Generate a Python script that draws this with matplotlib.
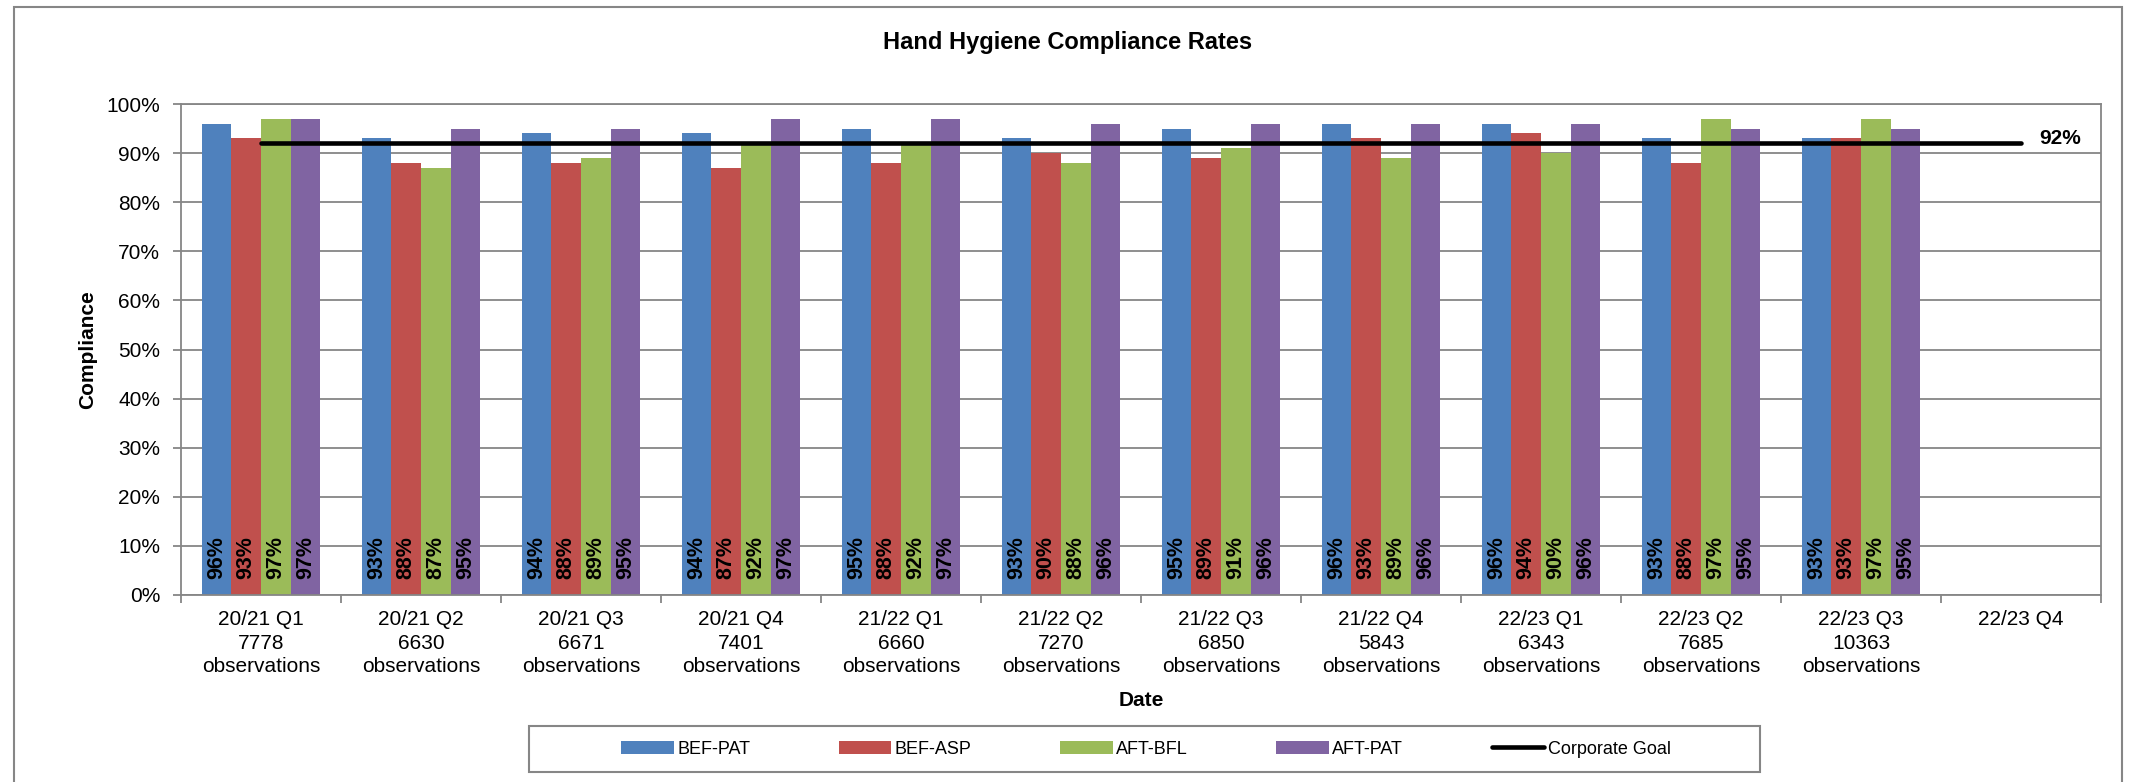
import matplotlib
matplotlib.use("Agg")
import matplotlib.pyplot as plt
import numpy as np
from matplotlib.patches import Rectangle

# font like Arial
plt.rcParams['font.family'] = ['Liberation Sans', 'DejaVu Sans']

# data
quarters = ["20/21 Q1", "20/21 Q2", "20/21 Q3", "20/21 Q4", "21/22 Q1", "21/22 Q2",
            "21/22 Q3", "21/22 Q4", "22/23 Q1", "22/23 Q2", "22/23 Q3", "22/23 Q4"]
observations = [7778, 6630, 6671, 7401, 6660, 7270, 6850, 5843, 6343, 7685, 10363]
bef_pat = [96, 93, 94, 94, 95, 93, 95, 96, 96, 93, 93]
bef_asp = [93, 88, 88, 87, 88, 90, 89, 93, 94, 88, 93]
aft_bfl = [97, 87, 89, 92, 92, 88, 91, 89, 90, 97, 97]
aft_pat = [97, 95, 95, 97, 97, 96, 96, 96, 96, 95, 95]
corporate_goal = [92] * len(quarters)

series = [("BEF-PAT", bef_pat, "#4F81BD"),
          ("BEF-ASP", bef_asp, "#C0504D"),
          ("AFT-BFL", aft_bfl, "#9BBB59"),
          ("AFT-PAT", aft_pat, "#8064A2")]

# x tick labels: quarter + observations
tick_labels = []
for i, q in enumerate(quarters):
    if i < len(observations):
        tick_labels.append(q + "\n" + str(observations[i]) + "\nobservations")
    else:
        tick_labels.append(q)

W, H = 2135, 782
fig = plt.figure(figsize=(W / 100, H / 100), dpi=100)
ax = fig.add_axes([181 / W, 1 - 595 / H, 1920 / W, 491 / H])

grey = "#868686"
bar_w = 1 / 5.42  # excel gap width ~142%

handles = []
for k, (name, vals, col) in enumerate(series):
    x = np.arange(len(vals)) + (k - 1.5) * bar_w
    y = np.array(vals) / 100
    b = ax.bar(x, y, width=bar_w, color=col, label=name, zorder=2)
    handles.append(b)
    # value labels, rotated at the bottom of each bar
    for xi, v in zip(x, vals):
        ax.text(xi, 0.077, f"{v}%", rotation=90, ha="center", va="center",
                fontsize=15.5, fontweight="bold", color="black", zorder=4)

# corporate goal line
line, = ax.plot(np.arange(len(quarters)), np.array(corporate_goal) / 100, color="black",
                lw=3.3, solid_capstyle="round", label="Corporate Goal", zorder=3)
handles.append(line)
ax.text(0.968, corporate_goal[-1] / 100 + 0.01, f"{corporate_goal[-1]}%",
        transform=ax.get_yaxis_transform(), ha="left", va="center",
        fontsize=15, fontweight="bold")

# axes
ax.set_xlim(-0.5, len(quarters) - 0.5)
ax.set_ylim(0, 1)
ax.set_yticks(np.arange(0, 1.01, 0.1))
ax.set_yticklabels([f"{int(round(t * 100))}%" for t in np.arange(0, 1.01, 0.1)], fontsize=15)
ax.yaxis.grid(True, color=grey, lw=1.3)
ax.set_axisbelow(True)

# ticks at the category boundaries, labels in the middle
ax.set_xticks(np.arange(-0.5, len(quarters)), labels=[])
ax.set_xticks(np.arange(len(quarters)), labels=tick_labels, minor=True, fontsize=15,
              linespacing=1.3)
ax.tick_params(axis="x", which="major", length=6, width=1.3, color=grey, direction="out")
ax.tick_params(axis="x", which="minor", length=0, pad=11)
ax.tick_params(axis="y", length=6, width=1.3, color=grey, pad=9)
for s in ax.spines.values():
    s.set_color(grey)
    s.set_linewidth(1.3)

# titles
fig.text(1068 / W, 1 - 43 / H, "Hand Hygiene Compliance Rates", ha="center", va="center",
         fontsize=17, fontweight="bold")
fig.text(88 / W, 1 - 350 / H, "Compliance", rotation=90, ha="center", va="center",
         fontsize=15, fontweight="bold")
fig.text(1141 / W, 1 - 701 / H, "Date", ha="center", va="center",
         fontsize=15, fontweight="bold")

# legend (box drawn separately so it can be wide like excel)
fig.legend(handles=handles, loc="center", bbox_to_anchor=(1146 / W, 1 - 749 / H), ncol=5,
           frameon=False, fontsize=13, handlelength=2.9, handletextpad=0.2, columnspacing=4.9)
fig.patches.append(Rectangle((529 / W, 1 - 772 / H), 1231 / W, 46 / H,
                             transform=fig.transFigure, fill=False, edgecolor=grey, lw=1.5))

# outer chart border
fig.patches.append(Rectangle((14 / W, -0.05), 2108 / W, 1.05 - 7 / H,
                             transform=fig.transFigure, fill=False, edgecolor=grey, lw=1.5))

fig.savefig("out.png", dpi=100)
